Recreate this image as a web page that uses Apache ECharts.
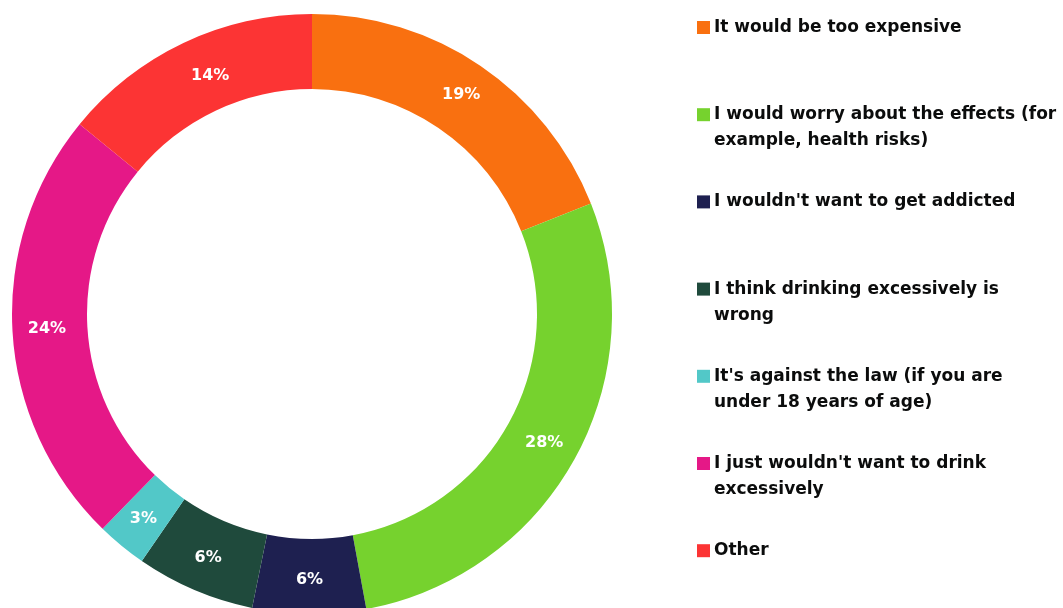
<!DOCTYPE html>
<html><head><meta charset="utf-8">
<script src="https://cdn.jsdelivr.net/npm/echarts@6/dist/echarts.min.js"></script>
<style>html,body{margin:0;padding:0;background:#fff}#c{width:1063px;height:608px}</style>
</head><body><div id="c"></div>
<script>
const categories = [
  "It would be too expensive",
  "I would worry about the effects (for\nexample, health risks)",
  "I wouldn't want to get addicted",
  "I think drinking excessively is\nwrong",
  "It's against the law (if you are\nunder 18 years of age)",
  "I just wouldn't want to drink\nexcessively",
  "Other"
];
const values = [19.0, 28.1, 6.1, 6.4, 2.7, 23.6, 14.1];
const colors = ["#F97010", "#76D22E", "#1E2050", "#1F4A3C", "#52C8C8", "#E51887", "#FC3434"];

const FONT = "'DejaVu Sans', sans-serif";
const rich = {
  t: { fontFamily: FONT, fontWeight: 700, fontSize: 17, color: '#0b0c0c', lineHeight: 26, padding: [0, 0, 0, 4] },
  s: { width: 13, height: 13 }
};
colors.forEach((c, i) => { rich['m' + i] = { width: 13, height: 13, backgroundColor: c }; });

const chart = echarts.init(document.getElementById('c'), null, { renderer: 'canvas' });
chart.setOption({
  animation: false,
  color: colors,
  legend: {
    orient: 'vertical',
    left: 687,
    top: 14,
    itemWidth: 0,
    itemHeight: 0,
    itemGap: 44.2,
    itemStyle: { opacity: 0 },
    selectedMode: false,
    data: categories,
    formatter: function (name) {
      const i = categories.indexOf(name);
      const lines = name.split('\n');
      const l2 = lines[1] !== undefined ? lines[1] : ' ';
      return '{m' + i + '|}{t|' + lines[0] + '}\n{s|}{t|' + l2 + '}';
    },
    textStyle: { rich: rich }
  },
  series: [{
    type: 'pie',
    center: [312, 314],
    radius: [225, 300],
    startAngle: 90,
    clockwise: true,
    avoidLabelOverlap: false,
    itemStyle: { borderWidth: 0 },
    label: {
      position: 'inside',
      formatter: function (p) { return Math.round(p.value) + '%'; },
      color: '#ffffff',
      fontFamily: FONT,
      fontWeight: 700,
      fontSize: 16
    },
    labelLine: { show: false },
    emphasis: { disabled: true },
    data: categories.map((n, i) => {
      const d = { name: n, value: values[i] };
      if (i === categories.length - 1) d.label = { offset: [12, 2] };
      return d;
    })
  }]
});
</script></body></html>
